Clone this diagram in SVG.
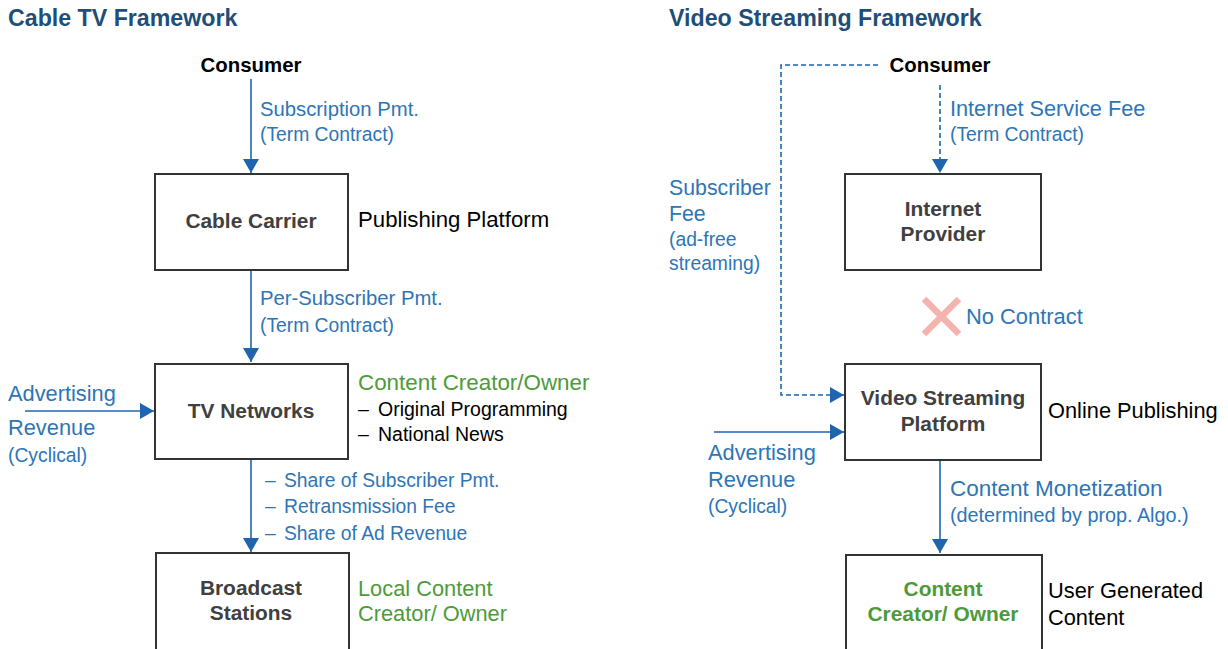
<svg xmlns="http://www.w3.org/2000/svg" width="1228" height="649" viewBox="0 0 1228 649">
<defs>
<style>
text{font-family:"Liberation Sans",Arial,sans-serif;}
.title{font-size:23.2px;font-weight:bold;fill:#1f4e79;}
.cons{font-size:20.4px;font-weight:bold;fill:#000;}
.node{font-size:20.9px;font-weight:bold;fill:#404040;text-anchor:middle;}
.nodeg{font-size:20.9px;font-weight:bold;fill:#4e9a3a;text-anchor:middle;}
.blue{font-size:21.3px;fill:#2e75b6;}
.bsm{font-size:19.3px;fill:#2e75b6;}
.blk{font-size:21.8px;fill:#000;}
.blks{font-size:19.5px;fill:#000;}
.grn{font-size:21.8px;fill:#4e9a3a;}
.box{fill:#fff;stroke:#333;stroke-width:2;}
.ln{fill:none;stroke:#1f64ad;stroke-width:1.6;}
.dash{stroke-dasharray:5 3;}
</style>
<marker id="ah" markerUnits="userSpaceOnUse" markerWidth="16" markerHeight="16" viewBox="0 0 16 16" refX="14" refY="8" orient="auto">
<path d="M0,0 L14,8 L0,16 Z" fill="#1f64ad"/>
</marker>
</defs>
<rect width="1228" height="649" fill="#fff"/>

<text class="title" x="8" y="26">Cable TV Framework</text>
<text class="title" x="669" y="26">Video Streaming Framework</text>

<g id="connectors">
<line class="ln" x1="251" y1="79" x2="251" y2="173" marker-end="url(#ah)"/>
<line class="ln" x1="251" y1="270" x2="251" y2="362" marker-end="url(#ah)"/>
<line class="ln" x1="251" y1="459" x2="251" y2="552" marker-end="url(#ah)"/>
<line class="ln" x1="25" y1="411" x2="154" y2="411" marker-end="url(#ah)"/>
<line class="ln dash" x1="940" y1="85" x2="940" y2="173" marker-end="url(#ah)"/>
<polyline class="ln dash" points="878,65 781,65 781,395 844,395" marker-end="url(#ah)"/>
<line class="ln" x1="714" y1="432" x2="844" y2="432" marker-end="url(#ah)"/>
<line class="ln" x1="940" y1="460" x2="940" y2="553" marker-end="url(#ah)"/>
</g>

<g id="consumer-left"><text class="cons" x="251" y="72" text-anchor="middle">Consumer</text></g>
<g id="label-sub"><text class="blue" x="260" y="116" style="font-size:20.3px">Subscription Pmt.</text><text class="bsm" x="260" y="141">(Term Contract)</text></g>

<g id="cable-carrier">
<rect class="box" x="155" y="174" width="193" height="96"/>
<text class="node" x="251" y="228">Cable Carrier</text>
</g>
<g id="label-pub"><text class="blk" x="358" y="227" style="font-size:22.2px">Publishing Platform</text></g>
<g id="label-per"><text class="blue" x="260" y="305" style="font-size:20.3px">Per-Subscriber Pmt.</text><text class="bsm" x="260" y="332">(Term Contract)</text></g>

<g id="tv-networks">
<rect class="box" x="155" y="364" width="193" height="95"/>
<text class="node" x="251" y="418">TV Networks</text>
</g>
<g id="label-ad-left"><text class="blue" x="8" y="401" style="font-size:21.8px">Advertising</text><text class="blue" x="8" y="435" style="font-size:21.8px">Revenue</text><text class="bsm" x="8" y="462">(Cyclical)</text></g>
<g id="label-content"><text class="grn" x="358" y="390" style="font-size:22.4px">Content Creator/Owner</text><text class="blks" x="358" y="416">–</text><text class="blks" x="378" y="416">Original Programming</text><text class="blks" x="358" y="441">–</text><text class="blks" x="378" y="441">National News</text></g>
<g id="label-share"><text class="bsm" x="265" y="487">–</text><text class="bsm" x="284" y="487">Share of Subscriber Pmt.</text><text class="bsm" x="265" y="513">–</text><text class="bsm" x="284" y="513">Retransmission Fee</text><text class="bsm" x="265" y="540">–</text><text class="bsm" x="284" y="540">Share of Ad Revenue</text></g>

<g id="broadcast">
<rect class="box" x="156" y="553" width="193" height="100"/>
<text class="node" x="251" y="595">Broadcast</text>
<text class="node" x="251" y="620">Stations</text>
</g>
<g id="label-local"><text class="grn" x="358" y="596">Local Content</text><text class="grn" x="358" y="621">Creator/ Owner</text></g>

<g id="consumer-right"><text class="cons" x="940" y="72" text-anchor="middle">Consumer</text></g>
<g id="label-isf"><text class="blue" x="950" y="116" style="font-size:21.7px">Internet Service Fee</text><text class="bsm" x="950" y="141">(Term Contract)</text></g>
<g id="label-subfee"><text class="blue" x="669" y="195">Subscriber</text><text class="blue" x="669" y="221">Fee</text><text class="bsm" x="669" y="246">(ad-free</text><text class="bsm" x="669" y="270">streaming)</text></g>

<g id="internet-provider">
<rect class="box" x="845" y="174" width="196" height="96"/>
<text class="node" x="943" y="216">Internet</text>
<text class="node" x="943" y="241">Provider</text>
</g>

<g id="no-contract">
<path d="M924,299 L959,334 M959,299 L924,334" stroke="#f4b3ae" stroke-width="6.5" fill="none"/>
<text class="blue" x="966" y="324" style="font-size:21.9px">No Contract</text>
</g>

<g id="video-platform">
<rect class="box" x="845" y="364" width="196" height="96"/>
<text class="node" x="943" y="405">Video Streaming</text>
<text class="node" x="943" y="431">Platform</text>
</g>
<g id="label-online"><text class="blk" x="1048" y="418">Online Publishing</text></g>
<g id="label-ad-right"><text class="blue" x="708" y="460" style="font-size:21.8px">Advertising</text><text class="blue" x="708" y="487" style="font-size:21.8px">Revenue</text><text class="bsm" x="708" y="513">(Cyclical)</text></g>
<g id="label-mon"><text class="blue" x="950" y="496" style="font-size:22.5px">Content Monetization</text><text class="bsm" x="950" y="522" style="font-size:19.8px">(determined by prop. Algo.)</text></g>

<g id="content-creator">
<rect class="box" x="846" y="555" width="196" height="100"/>
<text class="nodeg" x="943" y="596">Content</text>
<text class="nodeg" x="943" y="621">Creator/ Owner</text>
</g>
<g id="label-ugc"><text class="blk" x="1048" y="598">User Generated</text><text class="blk" x="1048" y="625">Content</text></g>
</svg>
